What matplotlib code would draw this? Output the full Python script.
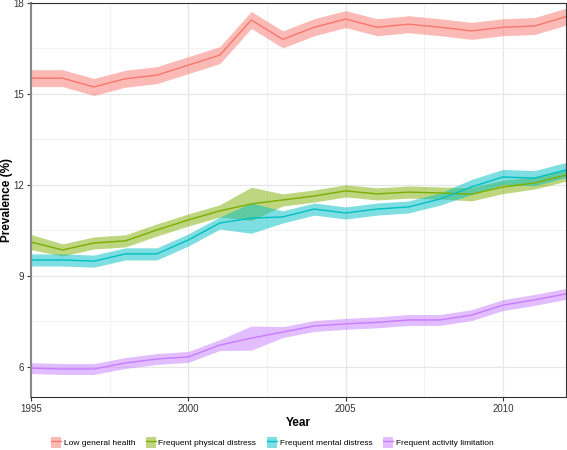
import matplotlib.pyplot as plt
from matplotlib.patches import Patch
from matplotlib.lines import Line2D
from matplotlib.legend_handler import HandlerTuple
import numpy as np

plt.rcParams['font.family'] = ['Liberation Sans', 'DejaVu Sans']

years = list(range(1995, 2013))

low_health = [15.52, 15.52, 15.23, 15.50, 15.62, 15.95, 16.28, 17.44, 16.80, 17.20,
              17.47, 17.20, 17.30, 17.20, 17.08, 17.20, 17.24, 17.55]
low_health_ci = [0.28, 0.28, 0.28, 0.28, 0.28, 0.28, 0.28, 0.28, 0.28, 0.28,
                 0.28, 0.28, 0.28, 0.28, 0.28, 0.28, 0.28, 0.28]

phys = [10.11, 9.85, 10.08, 10.15, 10.51, 10.84, 11.14, 11.37, 11.50, 11.63,
        11.80, 11.70, 11.76, 11.73, 11.69, 11.93, 12.06, 12.32]
phys_ci = [0.25, 0.2, 0.2, 0.2, 0.2, 0.2, 0.2, 0.55, 0.2, 0.2,
           0.2, 0.2, 0.2, 0.2, 0.22, 0.22, 0.2, 0.2]

mental = [9.52, 9.52, 9.48, 9.72, 9.72, 10.18, 10.74, 10.90, 10.94, 11.20,
          11.07, 11.20, 11.27, 11.53, 11.93, 12.26, 12.22, 12.49]
mental_ci = [0.2, 0.2, 0.2, 0.2, 0.2, 0.2, 0.2, 0.5, 0.2, 0.2,
             0.2, 0.2, 0.2, 0.2, 0.25, 0.25, 0.25, 0.25]

activity = [5.95, 5.92, 5.92, 6.12, 6.25, 6.32, 6.71, 6.94, 7.14, 7.34,
            7.41, 7.46, 7.54, 7.54, 7.70, 8.03, 8.20, 8.40]
activity_ci = [0.18, 0.18, 0.18, 0.18, 0.18, 0.18, 0.18, 0.4, 0.18, 0.18,
               0.18, 0.18, 0.18, 0.18, 0.18, 0.18, 0.18, 0.18]

names = ['Low general health', 'Frequent physical distress',
         'Frequent mental distress', 'Frequent activity limitation']
colors = ['#F8766D', '#7CAE00', '#00BFC4', '#C77CFF']
series = [(low_health, low_health_ci), (phys, phys_ci),
          (mental, mental_ci), (activity, activity_ci)]

fig = plt.figure(figsize=(5.67, 4.5), dpi=100)
ax = fig.add_axes([0.0547, 0.118, 0.9435, 0.8753])

handles = []
for (vals, ci), c, n in zip(series, colors, names):
    v = np.array(vals)
    e = np.array(ci)
    ax.fill_between(years, v - e, v + e, color=c, alpha=0.5, lw=0)
    ax.plot(years, v, color=c, lw=1)
    handles.append((Patch(facecolor=c, alpha=0.5, lw=0), Line2D([], [], color=c, lw=1)))

ax.set_xlim(1995, 2012)
ax.set_ylim(5.0, 18.0)
ax.set_xticks([1995, 2000, 2005, 2010])
ax.set_xticks([1997.5, 2002.5, 2007.5], minor=True)
ax.set_yticks([6, 9, 12, 15, 18])
ax.set_yticks([7.5, 10.5, 13.5, 16.5], minor=True)
ax.grid(which='major', color='#e6e6e6', lw=0.9)
ax.grid(which='minor', color='#f0f0f0', lw=0.6)
ax.set_axisbelow(True)
ax.tick_params(which='minor', length=0)
ax.tick_params(which='major', length=3, labelsize=7, colors='#333333', pad=2)

for s in ['top', 'right']:
    ax.spines[s].set_color('#333333')
    ax.spines[s].set_linewidth(0.8)
ax.spines['left'].set_color('#888888')
ax.spines['left'].set_linewidth(1.5)
ax.spines['bottom'].set_color('#333333')
ax.spines['bottom'].set_linewidth(0.8)

ax.set_xlabel('Year', fontsize=8.5, fontweight='bold', labelpad=2)
ax.set_ylabel('Prevalence (%)', fontsize=8.5, fontweight='bold')
ax.yaxis.set_label_coords(-0.034, 0.5)

fig.legend(handles, names, loc='lower center', bbox_to_anchor=(0.48, -0.012), ncol=4,
           frameon=False, fontsize=6, handler_map={tuple: HandlerTuple(ndivide=1)},
           handlelength=1.2, handleheight=1.6, columnspacing=1.3, handletextpad=0.3)

fig.savefig('out.png', dpi=100)
